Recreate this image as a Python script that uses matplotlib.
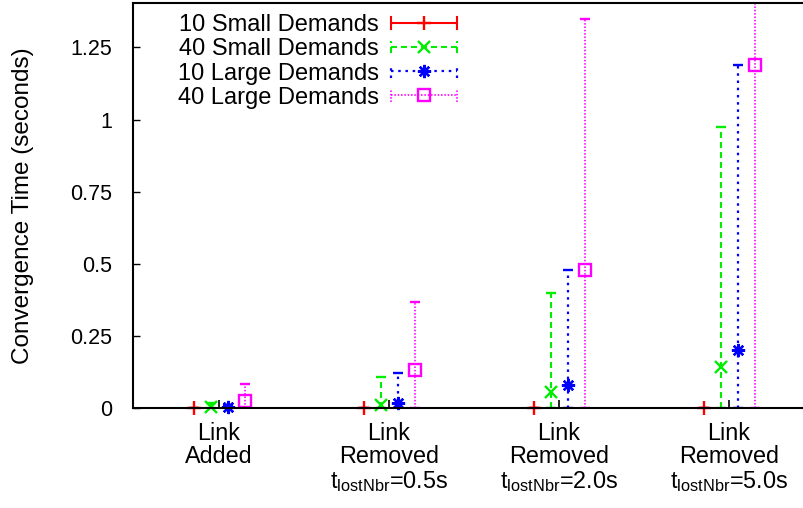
import matplotlib
matplotlib.use('Agg')
import matplotlib.pyplot as plt
from matplotlib.lines import Line2D
from matplotlib.legend_handler import HandlerBase
import numpy as np

plt.rcParams['font.family'] = ['Liberation Sans', 'DejaVu Sans']
plt.rcParams['mathtext.default'] = 'regular'
plt.rcParams['lines.scale_dashes'] = False

# Data
groups = ['Link\nAdded',
          'Link\nRemoved\nt$_{lostNbr}$=0.5s',
          'Link\nRemoved\nt$_{lostNbr}$=2.0s',
          'Link\nRemoved\nt$_{lostNbr}$=5.0s']
series_names = ['10 Small Demands', '40 Small Demands',
                '10 Large Demands', '40 Large Demands']

small10_mean = [0.0, 0.0, 0.0, 0.0]
small10_low = [0.0, 0.0, 0.0, 0.0]
small10_high = [0.0, 0.0, 0.0, 0.0]

small40_mean = [0.005, 0.010, 0.057, 0.141]
small40_low = [0.0, 0.0, 0.0, 0.0]
small40_high = [0.018, 0.107, 0.397, 0.975]

large10_mean = [0.002, 0.018, 0.081, 0.201]
large10_low = [0.0, 0.0, 0.0, 0.0]
large10_high = [0.010, 0.123, 0.479, 1.188]

large40_mean = [0.024, 0.132, 0.479, 1.190]
large40_low = [0.0, 0.0, 0.0, 0.0]
large40_high = [0.083, 0.367, 1.347, 1.620]

offsets = [-0.15, -0.05, 0.05, 0.15]

styles = [
    dict(color='#ff0000', ls='-', lw=1.5, marker='+', ms=9.5, mew=1.7, mfc='#ff0000'),
    dict(color='#00ee00', ls=(0, (4.3, 2.9)), lw=1.5, marker='x', ms=8, mew=1.7, mfc='#00ee00'),
    dict(color='#0000ff', ls=(0, (1.8, 3.4)), lw=1.6, marker=(8, 2, 0), ms=9.5, mew=1.7, mfc='#0000ff'),
    dict(color='#ff00ff', ls=(0, (1.1, 1.3)), lw=1.2, marker='s', ms=8.5, mew=1.7, mfc='none'),
]


class GnuplotKey(HandlerBase):
    # line sample with end bars and the point in the middle, gnuplot style
    def __init__(self, st):
        super().__init__()
        self.st = st

    def create_artists(self, legend, orig_handle, xdescent, ydescent,
                       width, height, fontsize, trans):
        st = self.st
        y = height / 2 - ydescent
        x0 = -xdescent
        x1 = -xdescent + width
        h = 4.5
        arts = [
            Line2D([x0, x1], [y, y], color=st['color'], lw=st['lw'], linestyle=st['ls']),
            Line2D([x0, x0], [y - h, y + h], color=st['color'], lw=st['lw'], linestyle=st['ls']),
            Line2D([x1, x1], [y - h, y + h], color=st['color'], lw=st['lw'], linestyle=st['ls']),
            Line2D([(x0 + x1) / 2], [y], color=st['color'], linestyle='none',
                   marker=st['marker'], ms=st['ms'], mew=st['mew'],
                   mfc=st['mfc'], mec=st['color']),
        ]
        for a in arts:
            a.set_transform(trans)
        return arts


fig = plt.figure(figsize=(8.04, 5.08), dpi=100)
ax = fig.add_axes([133 / 804, 100 / 508, 681 / 804, 405 / 508])

x = np.arange(1, len(groups) + 1)
all_data = [(small10_mean, small10_low, small10_high),
            (small40_mean, small40_low, small40_high),
            (large10_mean, large10_low, large10_high),
            (large40_mean, large40_low, large40_high)]

handles = []
handler_map = {}
for name, (m, lo, hi), off, st in zip(series_names, all_data, offsets, styles):
    m = np.array(m)
    yerr = [m - np.array(lo), np.array(hi) - m]
    cont = ax.errorbar(x + off, m, yerr=yerr, color=st['color'], ecolor=st['color'],
                       elinewidth=st['lw'], linestyle='none', marker=st['marker'],
                       ms=st['ms'], mew=st['mew'], mfc=st['mfc'], mec=st['color'],
                       capsize=3.5, capthick=st['lw'], label=name)
    cont.lines[2][0].set_linestyle(st['ls'])
    cont.lines[0].set_clip_on(False)
    handles.append(cont)
    handler_map[cont] = GnuplotKey(st)

ax.set_xlim(0.494, 4.5)
ax.set_ylim(0, 1.404)
ax.set_yticks([0, 0.25, 0.5, 0.75, 1, 1.25])
ax.set_yticklabels(['0', '0.25', '0.5', '0.75', '1', '1.25'])
ax.set_xticks(x)
ax.set_xticklabels(groups, linespacing=1.02)

ax.tick_params(axis='y', direction='in', length=5, width=1, labelsize=15.5, pad=15)
ax.tick_params(axis='x', direction='in', length=6, width=1.2, labelsize=16.8, pad=10)

for s in ['top', 'bottom', 'left', 'right']:
    ax.spines[s].set_linewidth(1.5)

ax.set_ylabel('Convergence Time (seconds)', fontsize=17.5)
ax.yaxis.set_label_coords(-0.146, 0.5)

ax.legend(handles=handles, labels=series_names, handler_map=handler_map,
          loc='upper right', bbox_to_anchor=(0.476, 0.972), frameon=False,
          markerfirst=False, fontsize=17, handlelength=2.8, handletextpad=0.5,
          labelspacing=0.09, borderpad=0, borderaxespad=0)

fig.savefig('out.png', dpi=100)
